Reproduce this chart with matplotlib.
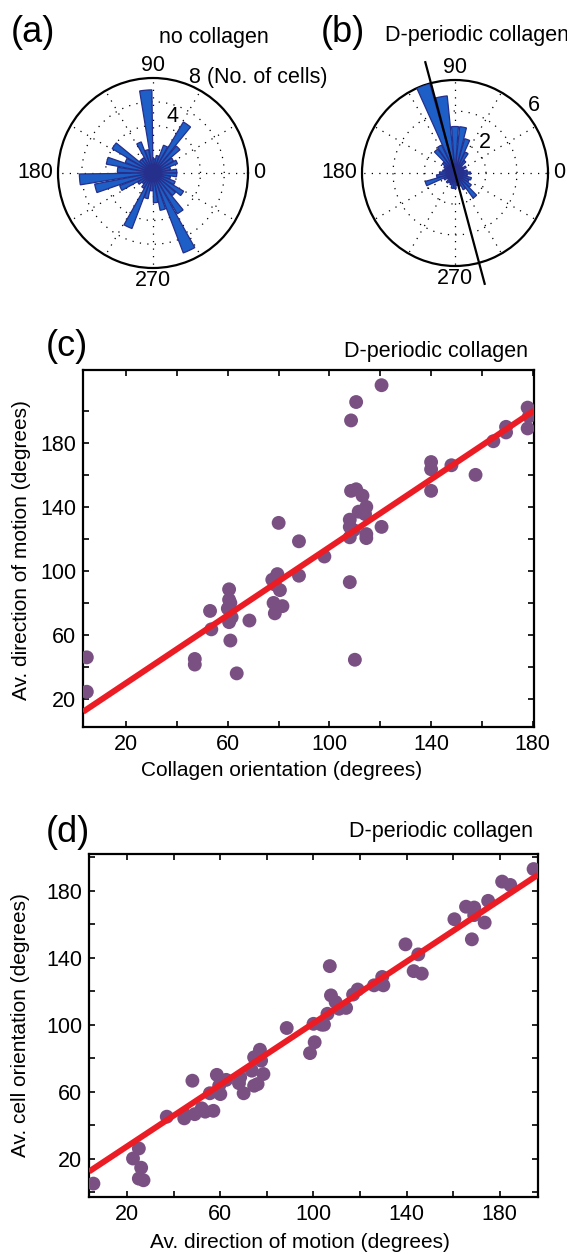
import numpy as np
import matplotlib
matplotlib.use("Agg")
import matplotlib.pyplot as plt
from matplotlib.ticker import FixedLocator

plt.rcParams['font.family'] = ['Liberation Sans', 'DejaVu Sans']

# ---- rose data: bin centres (degrees) and cell counts ----
rose_a_angles = [5, 15, 25, 35, 45, 55, 65, 75, 85, 95, 105, 115, 125, 135, 145, 155, 165, 175,
                 185, 195, 205, 215, 225, 235, 245, 255, 265, 275, 285, 295, 305, 315, 325, 335, 345, 355]
rose_a_counts = [2, 1.5, 2.2, 2, 3, 5, 2.5, 1.5, 1.2, 7, 2, 2.8, 1.5, 1.5, 4, 2.5, 4, 3,
                 6.2, 5, 3, 1.5, 1.2, 1.5, 5, 2.2, 1.5, 2.5, 3.2, 7.2, 4, 2.5, 3, 2, 1.5, 2]

rose_b_angles = [0, 10, 20, 30, 40, 50, 60, 70, 80, 90, 100, 110, 120, 130, 140, 150, 160, 170,
                 180, 190, 200, 210, 220, 230, 240, 250, 260, 270, 280, 290, 300, 310, 320, 330, 340, 350]
rose_b_counts = [1, 0.8, 0.6, 0.8, 0.6, 1, 1.5, 2.3, 3, 3, 5, 6, 2, 1.9, 1, 0.8, 0.7, 0.8,
                 1, 1.2, 2, 0.8, 0.6, 0.8, 0.7, 0.8, 1, 1, 0.8, 0.9, 1.2, 2, 1.3, 1, 1.1, 0.8]
collagen_axis_b = 105  # degrees

# ---- (c) collagen orientation vs av. direction of motion ----
coll_orient = [80, 88, 120.5, 110.5, 108.5, 178, 178.5, 178, 169.5, 169.5, 164.5, 157.5, 148, 140,
               140, 140, 108.5, 110.5, 113, 114.5, 111.5, 114, 108, 108, 109.5, 108, 114.5, 114.5,
               120.5, 98, 108, 110, 4.5, 4.5, 47, 47, 53, 53.5, 60.5, 60.5, 61, 60, 61.5, 60.5,
               61, 63.5, 68.5, 77.5, 79.5, 78.5, 80.5, 78, 81.5, 78.5, 88]
motion_c = [130, 118.5, 216, 205.5, 194, 202, 196.5, 189, 190, 186.5, 181, 160, 166, 168,
            163.5, 150, 150, 151, 147, 140, 137, 135.5, 132, 127.5, 125.5, 121, 123, 120.5,
            127.5, 109, 93, 44.5, 46, 24.5, 45, 41.5, 75, 63.5, 88.5, 82, 80, 76.5, 71, 68,
            56.5, 36, 69, 94.5, 98, 91.5, 88, 80, 78, 73.5, 97]
fit_c = (1.06, 8.8)

# ---- (d) av. direction of motion vs av. cell orientation ----
motion_d = [5.5, 22.5, 25, 26, 25, 27, 37, 44.5, 44.5, 48, 49, 52, 53.5, 57, 55.5, 58.5, 60, 59.5,
            62.5, 68.5, 68, 70, 73.5, 74.5, 76, 74.5, 77, 77.5, 78.5, 88.5, 98.5, 100.5, 100, 104.5,
            194.5, 181, 184.5, 175, 165.5, 169, 169, 173.5, 160.5, 168, 139.5, 145, 143, 146.5,
            129.5, 130, 126, 119, 117, 114, 111, 109.5, 107.5, 107, 106, 103.5]
cell_orient = [5, 20, 26, 14.5, 8, 7, 45, 44, 46.5, 66.5, 46.5, 50, 48, 48.5, 59, 70, 58.5, 63.5,
               67, 68.5, 65, 59, 72.5, 63.5, 64.5, 80.5, 85, 78.5, 70.5, 98, 83, 89.5, 100.5, 100,
               193, 185.5, 183.5, 174, 170.5, 170, 165.5, 161, 163, 151, 148, 142, 132, 130.5,
               128.5, 123.5, 123.5, 121, 118, 110, 109.5, 113.5, 117.5, 135, 106.5, 100]
fit_d = (0.92, 8.9)

W, H = 567, 1254
fig = plt.figure(figsize=(W / 100, H / 100), dpi=100)

def fbox(left, top, right, bottom):
    return [left / W, 1 - bottom / H, (right - left) / W, (bottom - top) / H]

def px(x, y):
    return x / W, 1 - y / H

bar_face = '#1d5fc6'
bar_edge = '#262f8c'
dots = (0, (1, 5))
polar_fs = 15.5


def rose(ax, angles, counts, rmax, rings):
    ax.bar(np.deg2rad(angles), counts, width=np.deg2rad(8.5), bottom=0,
           color=bar_face, edgecolor=bar_edge, linewidth=0.9, zorder=3)
    ax.set_ylim(0, rmax)
    ax.set_rgrids(rings, labels=[''] * len(rings))
    ax.set_thetagrids(range(0, 360, 30), labels=[''] * 12)
    ax.grid(True, color='k', linestyle=dots, linewidth=0.9)
    ax.spines['polar'].set_linewidth(1.6)
    off = rmax * 1.02
    ax.text(np.pi / 2, off, '90', ha='center', va='bottom', fontsize=polar_fs)
    ax.text(np.pi, off * 1.03, '180', ha='right', va='center', fontsize=polar_fs)
    ax.text(0, off * 1.03, '0', ha='left', va='center', fontsize=polar_fs)
    ax.text(3 * np.pi / 2, off, '270', ha='center', va='top', fontsize=polar_fs)


# (a)
ax_a = fig.add_axes(fbox(58, 78, 248, 268), projection='polar')
rose(ax_a, rose_a_angles, rose_a_counts, 8, [2, 4, 6])
ax_a.text(np.deg2rad(71), 5.0, '4', ha='center', va='center', fontsize=polar_fs, zorder=5)
ax_a.text(np.deg2rad(69.4), 8.55, '8 (No. of cells)', ha='left', va='center', fontsize=15.5)
fig.text(*px(11, 33), '(a)', fontsize=26, ha='left', va='center')
fig.text(*px(159, 37), 'no collagen', fontsize=15.5, ha='left', va='center')

# (b)
ax_b = fig.add_axes(fbox(362, 80, 548, 266), projection='polar')
rose(ax_b, rose_b_angles, rose_b_counts, 6, [2, 4])
ax_b.text(np.deg2rad(45), 2.74, '2', ha='center', va='center', fontsize=polar_fs, zorder=5)
ax_b.text(np.deg2rad(40.7), 6.72, '6', ha='center', va='center', fontsize=polar_fs)
t = np.deg2rad(collagen_axis_b)
ax_b.plot([t, t, t + np.pi], [7.4, 0, 7.4], color='k', lw=1.6, clip_on=False, zorder=6)
fig.text(*px(321, 32), '(b)', fontsize=26, ha='left', va='center')
fig.text(*px(385, 36), 'D-periodic collagen', fontsize=15.5, ha='left', va='center')

purple = '#7a5083'
red = '#ec1c24'


def scatter_panel(ax, x, y, fit, xlim, ylim, yminor):
    ax.scatter(x, y, s=100, color=purple, edgecolors='none', zorder=3)
    xx = np.array(xlim)
    ax.plot(xx, fit[0] * xx + fit[1], color=red, lw=4.3, zorder=4, solid_capstyle='butt')
    ax.set_xlim(*xlim)
    ax.set_ylim(*ylim)
    ax.set_xticks([20, 60, 100, 140, 180])
    ax.set_yticks([20, 60, 100, 140, 180])
    ax.xaxis.set_minor_locator(FixedLocator([40, 80, 120, 160]))
    ax.yaxis.set_minor_locator(FixedLocator(yminor))
    ax.tick_params(which='both', direction='in', top=True, right=True, length=4,
                   width=1.2, labelsize=15.5, pad=5)
    for s in ax.spines.values():
        s.set_linewidth(1.6)


# (c)
ax_c = fig.add_axes(fbox(83, 370, 534, 727))
scatter_panel(ax_c, coll_orient, motion_c, fit_c, (3, 180.5), (2.5, 225.5),
              [40, 80, 120, 160, 200])
fig.text(*px(282, 771), 'Collagen orientation (degrees)', fontsize=15, ha='center', va='center')
fig.text(*px(22, 550), 'Av. direction of motion (degrees)', fontsize=15, ha='center',
         va='center', rotation=90)
fig.text(*px(46, 347), '(c)', fontsize=26, ha='left', va='center')
fig.text(*px(528, 352), 'D-periodic collagen', fontsize=15.5, ha='right', va='center')

# (d)
ax_d = fig.add_axes(fbox(89, 854, 538, 1197))
scatter_panel(ax_d, motion_d, cell_orient, fit_d, (3.6, 196.4), (-3, 202),
              [0, 40, 80, 120, 160, 200])
fig.text(*px(300, 1243), 'Av. direction of motion (degrees)', fontsize=15, ha='center', va='center')
fig.text(*px(21, 1025), 'Av. cell orientation (degrees)', fontsize=15, ha='center',
         va='center', rotation=90)
fig.text(*px(46, 832), '(d)', fontsize=26, ha='left', va='center')
fig.text(*px(533, 832), 'D-periodic collagen', fontsize=15.5, ha='right', va='center')

fig.savefig('out.png', dpi=100)
